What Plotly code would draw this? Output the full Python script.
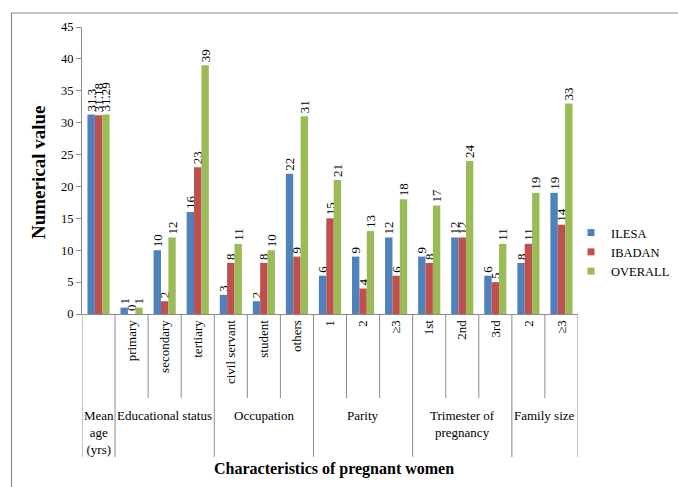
import plotly.graph_objects as go

sub_labels = ["", "primary", "secondary", "tertiary", "civil servant", "student", "others",
              "1", "2", "≥3", "1st", "2nd", "3rd", "2", "≥3"]
groups = ["Mean<br>age<br>(yrs)", "Educational status", "Occupation", "Parity",
          "Trimester of<br>pregnancy", "Family size"]
group_sizes = [1, 3, 3, 3, 3, 2]

ilesa = [31.3, 1, 10, 16, 3, 2, 22, 6, 9, 12, 9, 12, 6, 8, 19]
ibadan = [31.18, 0, 2, 23, 8, 8, 9, 15, 4, 6, 8, 12, 5, 11, 14]
overall = [31.29, 1, 12, 39, 11, 10, 31, 21, 13, 18, 17, 24, 11, 19, 33]

series = [("ILESA", ilesa, "#4F81BD"), ("IBADAN", ibadan, "#C0504D"), ("OVERALL", overall, "#9BBB59")]

FONT = "Liberation Serif"
W, H = 678, 487
L, R, T, B = 82, 100, 27, 173
pw, ph = W - L - R, H - T - B


def px_x(p):
    return (p - L) / pw


def px_y(p):
    return (H - B - p) / ph


def fnt(size, fam=FONT):
    return dict(family=fam, size=size, color="black")


xs = list(range(len(sub_labels)))
fig = go.Figure()
for name, vals, col in series:
    fig.add_trace(go.Bar(
        x=xs, y=vals, name=name, marker=dict(color=col, line=dict(width=0)),
        text=[str(v) for v in vals], textposition="outside", textangle=-90,
        constraintext="none", cliponaxis=False,
        textfont=fnt(13), outsidetextfont=fnt(13),
        showlegend=False, hoverinfo="skip"))
    fig.add_trace(go.Scatter(
        x=[None], y=[None], mode="markers", name=name,
        marker=dict(symbol="square", size=7, color=col), showlegend=True))

shapes = []
bounds = [0]
for s in group_sizes:
    bounds.append(bounds[-1] + s)
group_edges = set(bounds)
for b in range(len(sub_labels) + 1):
    bottom = px_y(457) if b in group_edges else px_y(398)
    shapes.append(dict(type="line", xref="x", yref="paper", x0=b - 0.5, x1=b - 0.5,
                       y0=0, y1=bottom, line=dict(color="#8c8c8c", width=1)))
shapes.append(dict(type="line", xref="paper", yref="paper",
                   x0=px_x(11.5), x1=px_x(678), y0=px_y(13), y1=px_y(13),
                   line=dict(color="#8c8c8c", width=1.2)))
shapes.append(dict(type="line", xref="paper", yref="paper",
                   x0=px_x(11.5), x1=px_x(11.5), y0=px_y(13), y1=px_y(487),
                   line=dict(color="#8c8c8c", width=1.2)))

annotations = []
for i, g in enumerate(groups):
    center = (bounds[i] + bounds[i + 1] - 1) / 2
    annotations.append(dict(x=center, xref="x", y=px_y(406), yref="paper",
                            text=g, showarrow=False, yanchor="top", xanchor="center",
                            font=fnt(13)))
annotations.append(dict(x=px_x(334), xref="paper", y=px_y(469), yref="paper",
                        text="<b>Characteristics of pregnant women</b>", showarrow=False,
                        xanchor="center", yanchor="middle", font=fnt(16)))
annotations.append(dict(x=px_x(38), xref="paper", y=px_y(172), yref="paper",
                        text="<b>Numerical value</b>", showarrow=False, textangle=-90,
                        xanchor="center", yanchor="middle", font=fnt(19)))

fig.update_layout(
    width=W, height=H, margin=dict(l=L, r=R, t=T, b=B, autoexpand=False),
    paper_bgcolor="white", plot_bgcolor="white",
    barmode="group", bargap=0.33, bargroupgap=0,
    font=fnt(12),
    shapes=shapes, annotations=annotations,
    legend=dict(x=px_x(571), y=px_y(252), xanchor="left", yanchor="middle",
                font=fnt(12.5),
                bgcolor="rgba(0,0,0,0)", itemwidth=30, tracegroupgap=0),
    xaxis=dict(range=[-0.5, len(sub_labels) - 0.5], tickvals=xs, ticktext=sub_labels,
               tickangle=-90, ticks="", showgrid=False, zeroline=False,
               showline=True, linecolor="#8c8c8c", linewidth=1,
               tickfont=fnt(13)),
    yaxis=dict(range=[0, 45], dtick=5, ticks="outside", ticklen=5, tickcolor="#8c8c8c",
               showgrid=False, zeroline=False, showline=True, linecolor="#8c8c8c",
               linewidth=1, tickfont=fnt(12.5)),
)

fig.write_html("out.html")
